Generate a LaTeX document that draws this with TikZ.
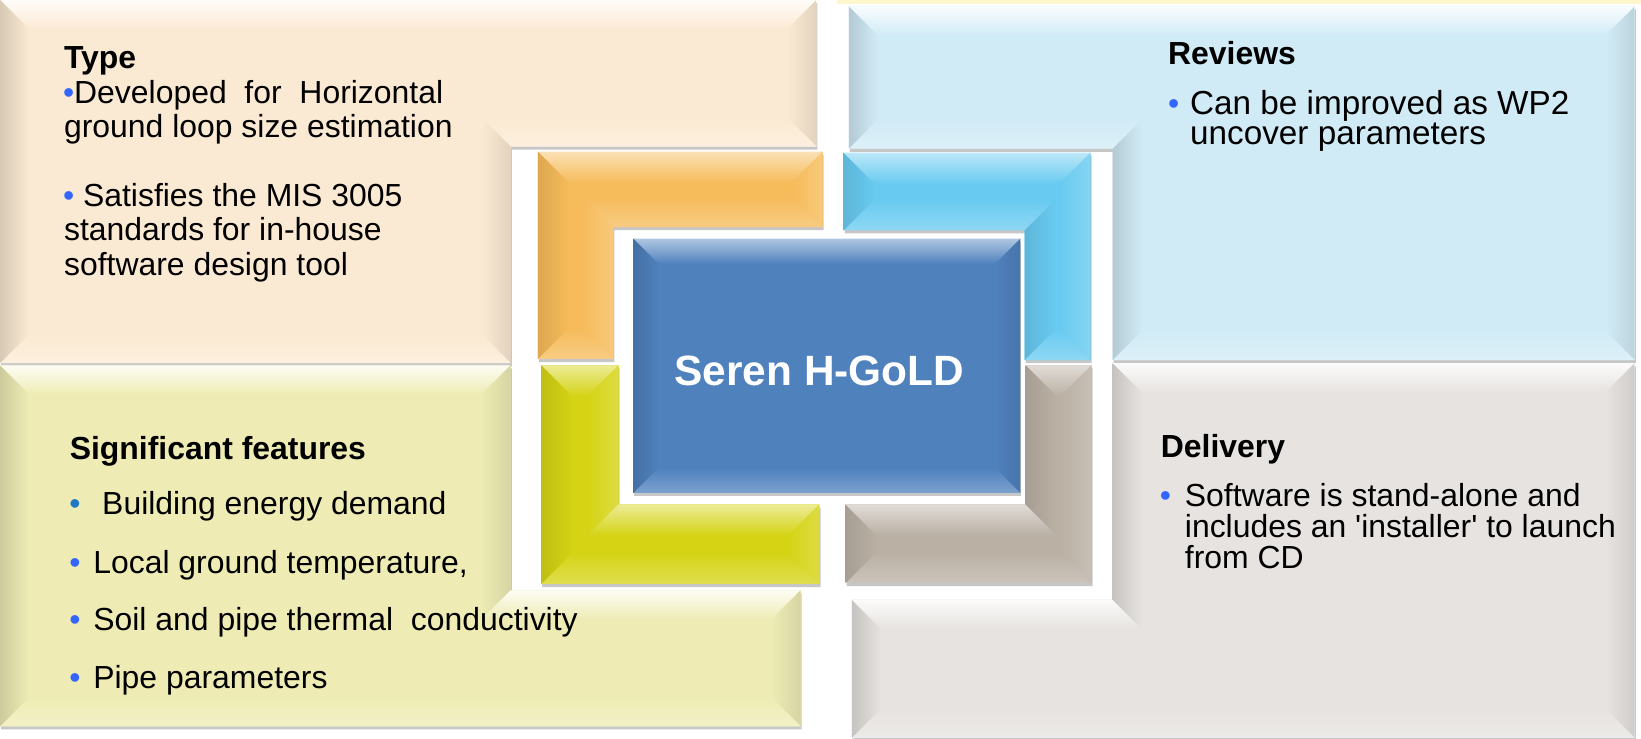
\documentclass[tikz,border=0pt]{standalone}
\usepackage{fontspec}
\setmainfont{Liberation Sans}[Ligatures=TeXOff]
\definecolor{cBeige}{RGB}{251,234,211}
\definecolor{cLBlue}{RGB}{209,235,246}
\definecolor{cPale}{RGB}{238,236,180}
\definecolor{cGray}{RGB}{230,227,224}
\definecolor{cOrange}{RGB}{246,187,90}
\definecolor{cCyan}{RGB}{104,202,240}
\definecolor{cYellow}{RGB}{213,211,20}
\definecolor{cTaupe}{RGB}{186,176,164}
\definecolor{cCenter}{RGB}{79,129,189}
\definecolor{cBullet}{RGB}{51,102,255}
\definecolor{cBulletB}{RGB}{31,119,200}
\definecolor{cStrip}{RGB}{255,246,205}
\tikzset{
  bevT/.style={top color=#1!15!white, bottom color=#1},
  bevt/.style={top color=#1!45!white, bottom color=#1},
  bevL/.style={left color=#1!86!black, right color=#1},
  bevl/.style={left color=#1!90!black, right color=#1},
  bevR/.style={left color=#1, right color=#1!90!black},
  bevr/.style={left color=#1, right color=#1!80!white},
  bevB/.style={top color=#1, bottom color=#1!75!white},
  txt/.style={anchor=base west, inner sep=0pt, font=\fontsize{30.5}{32}\selectfont},
  rtxt/.style={anchor=base west, inner sep=0pt, font=\fontsize{31.8}{32}\selectfont},
  hdr/.style={anchor=base west, inner sep=0pt, font=\fontsize{30.5}{32}\selectfont\bfseries},
  bul/.style={txt, text=cBullet},
}
\newcommand\bevelsix[8]{%
  \begin{scope}[transform canvas={shift={(1pt,-3pt)}}]
    \fill[black,opacity=.22] (#1p1)--(#1p2)--(#1p3)--(#1p4)--(#1p5)--(#1p6)--cycle;
  \end{scope}
  \fill[#2] (#1p1)--(#1p2)--(#1p3)--(#1p4)--(#1p5)--(#1p6)--cycle;
  \path[bev#3=#2] (#1p1)--(#1p2)--(#1q2)--(#1q1)--cycle;
  \path[bev#4=#2] (#1p2)--(#1p3)--(#1q3)--(#1q2)--cycle;
  \path[bev#5=#2] (#1p3)--(#1p4)--(#1q4)--(#1q3)--cycle;
  \path[bev#6=#2] (#1p4)--(#1p5)--(#1q5)--(#1q4)--cycle;
  \path[bev#7=#2] (#1p5)--(#1p6)--(#1q6)--(#1q5)--cycle;
  \path[bev#8=#2] (#1p6)--(#1p1)--(#1q1)--(#1q6)--cycle;
}
\begin{document}
\begin{tikzpicture}[x=1pt,y=-1pt]
\useasboundingbox (0,0) rectangle (1568,706);
\fill[white] (0,0) rectangle (1568,706);
\fill[cStrip] (800,0) rectangle (1568,4);

% Type panel (top left)
\coordinate (ap1) at (0,0);     \coordinate (ap2) at (780,0);   \coordinate (ap3) at (780,140);
\coordinate (ap4) at (488,140); \coordinate (ap5) at (488,347); \coordinate (ap6) at (0,347);
\coordinate (aq1) at (28,28);   \coordinate (aq2) at (752,28);  \coordinate (aq3) at (752,112);
\coordinate (aq4) at (460,112); \coordinate (aq5) at (460,319); \coordinate (aq6) at (28,319);
\bevelsix{a}{cBeige}{T}{R}{B}{R}{B}{L}

% Reviews panel (top right)
\coordinate (bp1) at (811,6);    \coordinate (bp2) at (1562,6);   \coordinate (bp3) at (1562,344);
\coordinate (bp4) at (1063,344); \coordinate (bp5) at (1063,142); \coordinate (bp6) at (811,142);
\coordinate (bq1) at (839,34);   \coordinate (bq2) at (1534,34);  \coordinate (bq3) at (1534,316);
\coordinate (bq4) at (1091,316); \coordinate (bq5) at (1091,114); \coordinate (bq6) at (839,114);
\bevelsix{b}{cLBlue}{T}{R}{B}{L}{B}{L}

% Significant features panel (bottom left)
\coordinate (cp1) at (0,349);   \coordinate (cp2) at (488,349); \coordinate (cp3) at (488,564);
\coordinate (cp4) at (765,564); \coordinate (cp5) at (765,694); \coordinate (cp6) at (0,694);
\coordinate (cq1) at (28,377);  \coordinate (cq2) at (460,377); \coordinate (cq3) at (460,592);
\coordinate (cq4) at (737,592); \coordinate (cq5) at (737,666); \coordinate (cq6) at (28,666);
\bevelsix{c}{cPale}{T}{R}{T}{R}{B}{L}

% Delivery panel (bottom right)
\coordinate (dp1) at (1063,347); \coordinate (dp2) at (1562,347); \coordinate (dp3) at (1562,705);
\coordinate (dp4) at (814,705);  \coordinate (dp5) at (814,573);  \coordinate (dp6) at (1063,573);
\coordinate (dq1) at (1091,375); \coordinate (dq2) at (1534,375); \coordinate (dq3) at (1534,677);
\coordinate (dq4) at (842,677);  \coordinate (dq5) at (842,601);  \coordinate (dq6) at (1091,601);
\bevelsix{d}{cGray}{T}{R}{B}{L}{T}{L}

% orange L
\coordinate (ep1) at (514,145); \coordinate (ep2) at (786,145); \coordinate (ep3) at (786,217);
\coordinate (ep4) at (586,217); \coordinate (ep5) at (586,343); \coordinate (ep6) at (514,343);
\coordinate (eq1) at (544,175); \coordinate (eq2) at (756,175); \coordinate (eq3) at (756,187);
\coordinate (eq4) at (556,187); \coordinate (eq5) at (556,313); \coordinate (eq6) at (544,313);
\bevelsix{e}{cOrange}{t}{r}{B}{r}{B}{l}

% cyan L
\coordinate (fp1) at (806,146);  \coordinate (fp2) at (1042,146); \coordinate (fp3) at (1042,344);
\coordinate (fp4) at (979,344);  \coordinate (fp5) at (979,220);  \coordinate (fp6) at (806,220);
\coordinate (fq1) at (836,176);  \coordinate (fq2) at (1012,176); \coordinate (fq3) at (1012,314);
\coordinate (fq4) at (1009,314); \coordinate (fq5) at (1009,190); \coordinate (fq6) at (836,190);
\bevelsix{f}{cCyan}{t}{r}{B}{l}{B}{l}

% yellow L
\coordinate (gp1) at (517,349); \coordinate (gp2) at (591,349); \coordinate (gp3) at (591,482);
\coordinate (gp4) at (783,482); \coordinate (gp5) at (783,558); \coordinate (gp6) at (517,558);
\coordinate (gq1) at (547,379); \coordinate (gq2) at (561,379); \coordinate (gq3) at (561,512);
\coordinate (gq4) at (753,512); \coordinate (gq5) at (753,528); \coordinate (gq6) at (547,528);
\bevelsix{g}{cYellow}{t}{r}{t}{r}{B}{l}

% taupe L
\coordinate (hp1) at (980,349);  \coordinate (hp2) at (1043,349); \coordinate (hp3) at (1043,557);
\coordinate (hp4) at (808,557);  \coordinate (hp5) at (808,482);  \coordinate (hp6) at (980,482);
\coordinate (hq1) at (1010,379); \coordinate (hq2) at (1013,379); \coordinate (hq3) at (1013,527);
\coordinate (hq4) at (838,527);  \coordinate (hq5) at (838,512);  \coordinate (hq6) at (1010,512);
\bevelsix{h}{cTaupe}{t}{r}{B}{l}{t}{l}

% centre block
\coordinate (kp1) at (605,228); \coordinate (kp2) at (975,228);
\coordinate (kp3) at (975,471); \coordinate (kp4) at (605,471);
\coordinate (kq1) at (629,252); \coordinate (kq2) at (951,252);
\coordinate (kq3) at (951,447); \coordinate (kq4) at (629,447);
\begin{scope}[transform canvas={shift={(1pt,-3pt)}}]
  \fill[black,opacity=.22] (kp1) rectangle (kp3);
\end{scope}
\fill[cCenter] (kp1) rectangle (kp3);
\path[bevt=cCenter] (kp1)--(kp2)--(kq2)--(kq1)--cycle;
\path[bevR=cCenter] (kp2)--(kp3)--(kq3)--(kq2)--cycle;
\path[bevB=cCenter] (kp3)--(kp4)--(kq4)--(kq3)--cycle;
\path[bevL=cCenter] (kp4)--(kp1)--(kq1)--(kq4)--cycle;
\node[anchor=base, inner sep=0pt, text=white, font=\fontsize{40.5}{44}\selectfont\bfseries] (title) at (783,368) {Seren H-GoLD};

% Type text
\node[hdr] (typeH) at (61,65.3) {Type};
\node[txt] (type1) at (60,98.7) {\textcolor{cBullet}{•}Developed\ \ for\ \ Horizontal};
\node[txt] (type2) at (61,131.2) {ground loop size estimation};
\node[txt] (type3) at (60,197.5) {\textcolor{cBullet}{•} Satisfies the MIS 3005};
\node[txt] (type4) at (61,230) {standards for in-house};
\node[txt] (type5) at (61,262.8) {software design tool};

% Reviews text
\node[hdr] (revH) at (1116,61.5) {Reviews};
\node[bul] (revB) at (1116,109.2) {•};
\node[rtxt] (rev1) at (1137,109.2) {Can be improved as WP2};
\node[rtxt] (rev2) at (1137,138.5) {uncover parameters};

% Delivery text
\node[hdr] (delH) at (1109,437) {Delivery};
\node[bul] (delB) at (1108,484) {•};
\node[txt] (del1) at (1132,484) {Software is stand-alone and};
\node[txt] (del2) at (1132,513.4) {includes an 'installer' to launch};
\node[txt] (del3) at (1132,543) {from CD};

% Significant features text
\node[hdr] (sfH) at (66.5,439.5) {Significant features};
\node[txt, text=cBulletB] (sfB1) at (66,492) {•};
\node[txt] (sf1) at (97.5,492) {Building energy demand};
\node[bul] (sfB2) at (66,547.8) {•};
\node[txt] (sf2) at (89,547.8) {Local ground temperature,};
\node[bul] (sfB3) at (66,602) {•};
\node[txt] (sf3) at (89,602) {Soil and pipe thermal\ \ conductivity};
\node[bul] (sfB4) at (66,657.7) {•};
\node[txt] (sf4) at (89,657.7) {Pipe parameters};
\end{tikzpicture}
\end{document}
